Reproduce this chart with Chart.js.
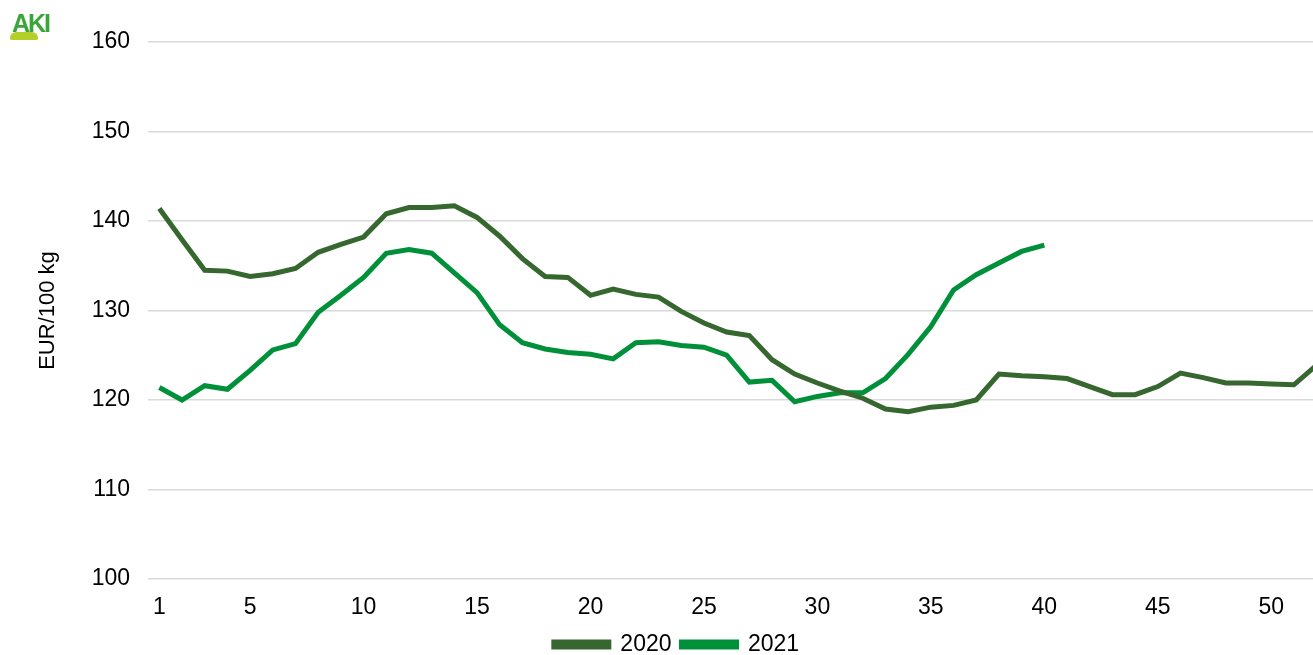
<!DOCTYPE html>
<html>
<head>
<meta charset="utf-8">
<script src="https://cdn.jsdelivr.net/npm/chart.js@4/dist/chart.umd.min.js"></script>
<style>
  html, body { margin: 0; padding: 0; background: #fff; }
  #wrap { position: relative; width: 1313px; height: 655px; }
  #logo { position: absolute; left: 12px; top: 10px; font: bold 25px "Liberation Sans", Arial, sans-serif;
          color: #3aa63a; letter-spacing: -2px; line-height: 26px; }
  #hill { position: absolute; left: 10px; top: 32px; width: 28px; height: 8px; border-radius: 14px 14px 4px 4px;
          background: #b5cf2a; }
</style>
</head>
<body>
<div id="wrap">
  <canvas id="chart" width="1313" height="655"></canvas>
  <div id="hill"></div>
  <div id="logo">AKI</div>
</div>
<script>
// hetek
var weeks = [];
for (var w = 1; w <= 52; w++) weeks.push(w);

var labels2020 = '2020';
var labels2021 = '2021';

// EUR/100 kg
var values2020 = [141.4, 137.9, 134.5, 134.4, 133.8, 134.1, 134.7, 136.5, 137.4, 138.2,
                  140.8, 141.5, 141.5, 141.7, 140.4, 138.3, 135.8, 133.8, 133.7, 131.7,
                  132.4, 131.8, 131.5, 129.9, 128.6, 127.6, 127.2, 124.5, 122.9, 121.9,
                  121.0, 120.2, 119.0, 118.7, 119.2, 119.4, 120.0, 122.9, 122.7, 122.6,
                  122.4, 121.5, 120.6, 120.6, 121.5, 123.0, 122.5, 121.9, 121.9, 121.8,
                  121.7, 123.9];
var values2021 = [121.4, 120.0, 121.6, 121.2, 123.3, 125.6, 126.3, 129.8, 131.7, 133.7,
                  136.4, 136.8, 136.4, 134.2, 132.0, 128.4, 126.4, 125.7, 125.3, 125.1,
                  124.6, 126.4, 126.5, 126.1, 125.9, 125.0, 122.0, 122.2, 119.8, 120.4,
                  120.8, 120.8, 122.4, 125.1, 128.2, 132.3, 134.0, 135.3, 136.6, 137.3];

var xTicks = [1, 5, 10, 15, 20, 25, 30, 35, 40, 45, 50];
var yTicks = [100, 110, 120, 130, 140, 150, 160];

function toPoints(vals) {
  return vals.map(function (v, i) { return { x: weeks[i], y: v }; });
}

var fontFam = '"Liberation Sans", Arial, sans-serif';

new Chart(document.getElementById('chart'), {
  type: 'line',
  data: {
    datasets: [{
      label: labels2020,
      data: toPoints(values2020),
      borderColor: '#35672e',
      backgroundColor: '#35672e',
      borderWidth: 5,
      pointRadius: 0,
      tension: 0
    }, {
      label: labels2021,
      data: toPoints(values2021),
      borderColor: '#00903a',
      backgroundColor: '#00903a',
      borderWidth: 5,
      pointRadius: 0,
      tension: 0
    }]
  },
  options: {
    responsive: false,
    animation: false,
    // left padding only moves the legend centre; the y axis width is cut to match
    layout: { padding: { top: 42, right: 0, left: 40, bottom: -11 } },
    plugins: {
      legend: {
        position: 'bottom',
        labels: {
          boxWidth: 55,
          boxHeight: 5,
          padding: 10,
          color: '#000',
          font: { family: fontFam, size: 23 }
        }
      },
      tooltip: { enabled: false }
    },
    scales: {
      x: {
        type: 'linear',
        min: 0.5,
        max: 51.84,
        afterBuildTicks: function (axis) {
          axis.ticks = xTicks.map(function (v) { return { value: v }; });
        },
        afterFit: function (axis) { axis.height = 44; },
        grid: { display: false, drawTicks: false },
        border: { display: false },
        ticks: {
          color: '#000',
          padding: 15,
          maxRotation: 0,
          font: { family: fontFam, size: 23 }
        }
      },
      y: {
        min: 100,
        max: 160,
        afterBuildTicks: function (axis) {
          axis.ticks = yTicks.map(function (v) { return { value: v }; });
        },
        afterFit: function (axis) { axis.width = 108; },
        grid: { color: '#d9d9d9', lineWidth: 1.5, drawTicks: false },
        border: { display: false },
        title: {
          display: true,
          text: 'EUR/100 kg',
          color: '#000',
          padding: { top: -5, bottom: 0 },
          font: { family: fontFam, size: 22 }
        },
        ticks: {
          color: '#000',
          padding: 18,
          font: { family: fontFam, size: 23 }
        }
      }
    }
  }
});
</script>
</body>
</html>
